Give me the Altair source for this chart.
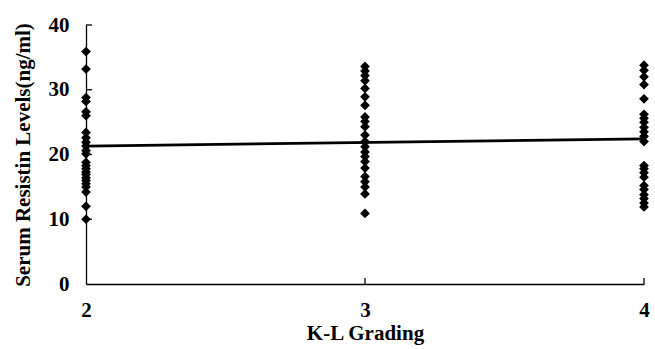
import altair as alt
import pandas as pd

grade2 = [35.9, 33.2, 28.8, 28.2, 26.6, 26.0, 23.4, 22.6, 21.9, 21.3, 20.6, 20.1,
          18.8, 18.3, 17.8, 17.3, 16.9, 16.4, 16.0, 15.5, 15.0, 14.2, 12.0, 10.0]
grade3 = [33.6, 32.9, 32.2, 31.4, 30.2, 28.9, 27.6, 25.8, 25.1, 24.3, 23.0, 22.0,
          21.2, 20.4, 19.7, 18.9, 17.9, 16.6, 15.8, 15.0, 13.9, 10.9]
grade4 = [33.8, 33.0, 32.0, 30.8, 28.6, 26.2, 25.6, 25.0, 24.2, 23.5, 22.8, 22.0,
          18.3, 17.8, 17.2, 16.5, 15.2, 14.6, 13.8, 13.2, 12.5, 11.9]
grades = [2, 3, 4]
trend_x = [2, 4]
trend_y = [21.3, 22.4]
y_ticks = [10, 20, 30, 40]
x_ticks = [3, 4]

pts = pd.DataFrame(
    {"grade": [2] * len(grade2) + [3] * len(grade3) + [4] * len(grade4),
     "value": grade2 + grade3 + grade4}
)
trend = pd.DataFrame({"grade": trend_x, "value": trend_y})
ytdf = pd.DataFrame({"value": y_ticks})
xtdf = pd.DataFrame({"grade": x_ticks})

FONT = "Liberation Serif"
xs = alt.Scale(type="point", domain=grades, padding=0)
ys = alt.Scale(domain=[0, 40], nice=False)

xaxis = alt.Axis(title="K-L Grading", grid=False, labelAngle=0,
                 ticks=False, labelPadding=15, titlePadding=2,
                 labelOverlap=False, labelFlush=False, labelBound=False,
                 labelFont=FONT, labelFontSize=21, labelFontWeight="bold",
                 titleFont=FONT, titleFontSize=21, titleFontWeight="bold",
                 domainColor="black", domainWidth=1.3, labelColor="black", titleColor="black")
yaxis = alt.Axis(values=[0, 10, 20, 30, 40], title="Serum Resistin Levels(ng/ml)", grid=False,
                 ticks=False, labelPadding=17, titlePadding=15,
                 labelOverlap=False, labelFlush=False, labelBound=False,
                 labelFont=FONT, labelFontSize=21, labelFontWeight="bold",
                 titleFont=FONT, titleFontSize=21, titleFontWeight="bold",
                 domainColor="black", domainWidth=1.3, labelColor="black", titleColor="black")

X = alt.X("grade:O", scale=xs, axis=xaxis)
Y = alt.Y("value:Q", scale=ys, axis=yaxis)

points = alt.Chart(pts).mark_point(shape="diamond", filled=True, color="black", size=95, opacity=1).encode(
    x=X, y=Y,
)

line = alt.Chart(trend).mark_line(color="black", strokeWidth=2.8).encode(x=X, y=Y)

yt = alt.Chart(ytdf).mark_rule(color="black", strokeWidth=1.3).encode(
    y=Y, x=alt.value(0), x2=alt.value(6)
)
xt = alt.Chart(xtdf).mark_rule(color="black", strokeWidth=1.3).encode(
    x=X, y=alt.value(259), y2=alt.value(253)
)

chart = alt.layer(points, line, yt, xt).properties(
    width=558, height=259,
    autosize=alt.AutoSizeParams(type="none"),
    padding={"left": 86, "top": 25, "right": 11, "bottom": 65},
    background="white",
).configure_view(stroke=None)

chart.save("out.html", embed_options={"renderer": "svg", "actions": False})
